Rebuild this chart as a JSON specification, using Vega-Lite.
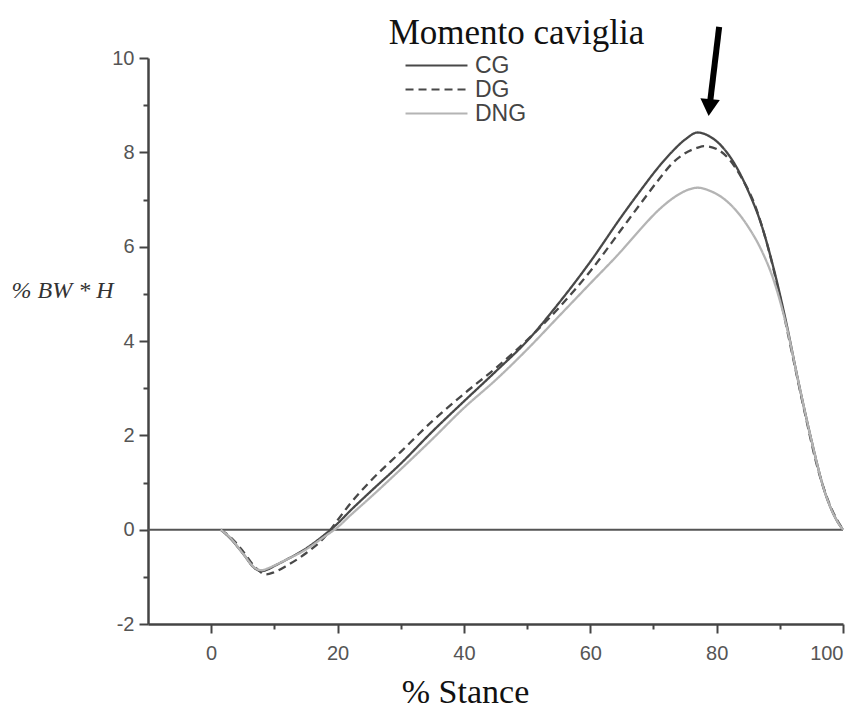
{
  "$schema": "https://vega.github.io/schema/vega-lite/v6.json",
  "width": 695,
  "height": 566,
  "autosize": {"type": "none"},
  "padding": {"left": 148, "top": 58, "right": 20, "bottom": 85},
  "background": "white",
  "config": {"view": {"stroke": null}, "font": "Liberation Sans"},
  "title": {
    "text": "Momento caviglia",
    "font": "Liberation Serif",
    "fontSize": 35,
    "fontWeight": "normal",
    "color": "#111111",
    "anchor": "middle",
    "dx": 21,
    "dy": 68,
    "offset": 13,
    "baseline": "alphabetic"
  },
  "datasets": {
    "curves": [
      {"g": "CG", "x": 1.5, "y": 0}, {"g": "CG", "x": 3, "y": -0.18}, {"g": "CG", "x": 5, "y": -0.5}, {"g": "CG", "x": 7, "y": -0.83}, {"g": "CG", "x": 8, "y": -0.88}, {"g": "CG", "x": 9, "y": -0.84}, {"g": "CG", "x": 10, "y": -0.77}, {"g": "CG", "x": 12, "y": -0.63}, {"g": "CG", "x": 15, "y": -0.4}, {"g": "CG", "x": 18, "y": -0.1}, {"g": "CG", "x": 20, "y": 0.13}, {"g": "CG", "x": 22, "y": 0.4}, {"g": "CG", "x": 25, "y": 0.78}, {"g": "CG", "x": 30, "y": 1.4}, {"g": "CG", "x": 35, "y": 2.08}, {"g": "CG", "x": 40, "y": 2.72}, {"g": "CG", "x": 45, "y": 3.35}, {"g": "CG", "x": 50, "y": 4.0}, {"g": "CG", "x": 55, "y": 4.8}, {"g": "CG", "x": 60, "y": 5.68}, {"g": "CG", "x": 65, "y": 6.65}, {"g": "CG", "x": 68, "y": 7.2}, {"g": "CG", "x": 71, "y": 7.72}, {"g": "CG", "x": 73, "y": 8.02}, {"g": "CG", "x": 75, "y": 8.27}, {"g": "CG", "x": 77, "y": 8.42}, {"g": "CG", "x": 79, "y": 8.33}, {"g": "CG", "x": 81, "y": 8.1}, {"g": "CG", "x": 83, "y": 7.72}, {"g": "CG", "x": 85, "y": 7.18}, {"g": "CG", "x": 87, "y": 6.5}, {"g": "CG", "x": 89, "y": 5.55}, {"g": "CG", "x": 91, "y": 4.4}, {"g": "CG", "x": 93, "y": 3.1}, {"g": "CG", "x": 95, "y": 1.9}, {"g": "CG", "x": 97, "y": 0.85}, {"g": "CG", "x": 99, "y": 0.2}, {"g": "CG", "x": 100, "y": 0},
      {"g": "DG", "x": 1.5, "y": 0}, {"g": "DG", "x": 3, "y": -0.15}, {"g": "DG", "x": 5, "y": -0.45}, {"g": "DG", "x": 7, "y": -0.8}, {"g": "DG", "x": 8.7, "y": -0.95}, {"g": "DG", "x": 10, "y": -0.9}, {"g": "DG", "x": 12, "y": -0.76}, {"g": "DG", "x": 15, "y": -0.5}, {"g": "DG", "x": 18, "y": -0.15}, {"g": "DG", "x": 20, "y": 0.2}, {"g": "DG", "x": 22, "y": 0.55}, {"g": "DG", "x": 25, "y": 1.0}, {"g": "DG", "x": 30, "y": 1.65}, {"g": "DG", "x": 35, "y": 2.3}, {"g": "DG", "x": 40, "y": 2.88}, {"g": "DG", "x": 45, "y": 3.42}, {"g": "DG", "x": 50, "y": 4.02}, {"g": "DG", "x": 55, "y": 4.7}, {"g": "DG", "x": 60, "y": 5.48}, {"g": "DG", "x": 65, "y": 6.38}, {"g": "DG", "x": 68, "y": 6.92}, {"g": "DG", "x": 71, "y": 7.45}, {"g": "DG", "x": 73, "y": 7.77}, {"g": "DG", "x": 75, "y": 7.98}, {"g": "DG", "x": 77, "y": 8.1}, {"g": "DG", "x": 78, "y": 8.13}, {"g": "DG", "x": 80, "y": 8.07}, {"g": "DG", "x": 82, "y": 7.85}, {"g": "DG", "x": 84, "y": 7.45}, {"g": "DG", "x": 86, "y": 6.9}, {"g": "DG", "x": 88, "y": 6.05}, {"g": "DG", "x": 90, "y": 4.95}, {"g": "DG", "x": 92, "y": 3.7}, {"g": "DG", "x": 94, "y": 2.45}, {"g": "DG", "x": 96, "y": 1.3}, {"g": "DG", "x": 98, "y": 0.5}, {"g": "DG", "x": 100, "y": 0},
      {"g": "DNG", "x": 1.5, "y": 0}, {"g": "DNG", "x": 3, "y": -0.17}, {"g": "DNG", "x": 5, "y": -0.5}, {"g": "DNG", "x": 7, "y": -0.82}, {"g": "DNG", "x": 8, "y": -0.86}, {"g": "DNG", "x": 9, "y": -0.82}, {"g": "DNG", "x": 10, "y": -0.76}, {"g": "DNG", "x": 12, "y": -0.63}, {"g": "DNG", "x": 15, "y": -0.42}, {"g": "DNG", "x": 18, "y": -0.14}, {"g": "DNG", "x": 20, "y": 0.05}, {"g": "DNG", "x": 22, "y": 0.3}, {"g": "DNG", "x": 25, "y": 0.66}, {"g": "DNG", "x": 30, "y": 1.28}, {"g": "DNG", "x": 35, "y": 1.92}, {"g": "DNG", "x": 40, "y": 2.58}, {"g": "DNG", "x": 45, "y": 3.17}, {"g": "DNG", "x": 50, "y": 3.82}, {"g": "DNG", "x": 55, "y": 4.52}, {"g": "DNG", "x": 60, "y": 5.22}, {"g": "DNG", "x": 65, "y": 5.92}, {"g": "DNG", "x": 68, "y": 6.38}, {"g": "DNG", "x": 71, "y": 6.8}, {"g": "DNG", "x": 73, "y": 7.02}, {"g": "DNG", "x": 75, "y": 7.18}, {"g": "DNG", "x": 77, "y": 7.25}, {"g": "DNG", "x": 79, "y": 7.18}, {"g": "DNG", "x": 81, "y": 7.03}, {"g": "DNG", "x": 83, "y": 6.78}, {"g": "DNG", "x": 85, "y": 6.42}, {"g": "DNG", "x": 87, "y": 5.95}, {"g": "DNG", "x": 89, "y": 5.3}, {"g": "DNG", "x": 91, "y": 4.35}, {"g": "DNG", "x": 93, "y": 3.1}, {"g": "DNG", "x": 95, "y": 1.9}, {"g": "DNG", "x": 97, "y": 0.85}, {"g": "DNG", "x": 99, "y": 0.2}, {"g": "DNG", "x": 100, "y": 0}
    ]
  },
  "layer": [
    {
      "data": {"values": [{"y": 0}]},
      "mark": {"type": "rule", "color": "#555555", "strokeWidth": 2},
      "encoding": {
        "y": {"field": "y", "type": "quantitative"}
      }
    },
    {
      "data": {"name": "curves"},
      "mark": {"type": "line", "interpolate": "monotone", "strokeWidth": 2.3},
      "encoding": {
        "x": {
          "field": "x",
          "type": "quantitative",
          "scale": {"domain": [-10, 100], "nice": false, "zero": false},
          "axis": {
            "title": "% Stance",
            "titleFont": "Liberation Serif",
            "titleFontSize": 34,
            "titleFontWeight": "normal",
            "titleColor": "#111111",
            "titleX": 317,
            "titleY": 78,
            "titleAlign": "center",
            "titleBaseline": "alphabetic",
            "values": [0, 10, 20, 30, 40, 50, 60, 70, 80, 90, 100],
            "labelExpr": "datum.value % 20 === 0 ? '' + datum.value : ''",
            "tickSize": {"condition": {"test": "datum.value % 20 !== 0", "value": 5}, "value": 9},
            "tickColor": "#444444",
            "tickWidth": 2,
            "domainColor": "#444444",
            "domainWidth": 2.5,
            "labelFontSize": 20,
            "labelColor": "#555555",
            "labelPadding": 10,
            "grid": false
          }
        },
        "y": {
          "field": "y",
          "type": "quantitative",
          "scale": {"domain": [-2, 10], "nice": false, "zero": false},
          "axis": {
            "title": "% BW * H",
            "titleFont": "Liberation Serif",
            "titleFontStyle": "italic",
            "titleFontSize": 24,
            "titleFontWeight": "normal",
            "titleColor": "#333333",
            "titleAngle": 0,
            "titleX": -137,
            "titleY": 232,
            "titleAlign": "left",
            "titleBaseline": "middle",
            "values": [-2, -1, 0, 1, 2, 3, 4, 5, 6, 7, 8, 9, 10],
            "labelExpr": "datum.value % 2 === 0 ? '' + datum.value : ''",
            "tickSize": {"condition": {"test": "datum.value % 2 !== 0", "value": 5}, "value": 9},
            "tickColor": "#444444",
            "tickWidth": 2,
            "domainColor": "#444444",
            "domainWidth": 2.5,
            "labelFontSize": 20,
            "labelColor": "#555555",
            "labelPadding": 5,
            "grid": false
          }
        },
        "color": {
          "field": "g",
          "type": "nominal",
          "scale": {"domain": ["CG", "DG", "DNG"], "range": ["#484848", "#484848", "#b4b4b4"]},
          "legend": {
            "title": null,
            "orient": "none",
            "legendX": 277,
            "legendY": -4,
            "padding": 0,
            "symbolType": "M-4,0H4",
            "symbolSize": 240,
            "symbolStrokeWidth": 2,
            "labelFont": "Liberation Sans",
            "labelFontSize": 23,
            "labelColor": "#444444",
            "labelOffset": 27,
            "rowPadding": 0
          }
        },
        "strokeDash": {
          "field": "g",
          "type": "nominal",
          "scale": {"domain": ["CG", "DG", "DNG"], "range": [[1, 0], [8, 5], [1, 0]]},
          "legend": {
            "title": null,
            "orient": "none",
            "legendX": 277,
            "legendY": -4,
            "padding": 0,
            "symbolType": "M-4,0H4",
            "symbolSize": 240,
            "symbolStrokeWidth": 2,
            "labelFont": "Liberation Sans",
            "labelFontSize": 23,
            "labelColor": "#444444",
            "labelOffset": 27,
            "rowPadding": 0
          }
        }
      }
    },
    {
      "data": {"values": [{"x": 80.4, "y": 10.66, "x2": 79.0, "y2": 9.1}]},
      "mark": {"type": "rule", "color": "black", "strokeWidth": 6},
      "encoding": {
        "x": {"field": "x", "type": "quantitative"},
        "y": {"field": "y", "type": "quantitative"},
        "x2": {"field": "x2"},
        "y2": {"field": "y2"}
      }
    },
    {
      "data": {"values": [{"x": 78.85, "y": 8.95}]},
      "mark": {"type": "point", "shape": "triangle-down", "filled": true, "color": "black", "opacity": 1, "size": 380, "angle": 5},
      "encoding": {
        "x": {"field": "x", "type": "quantitative"},
        "y": {"field": "y", "type": "quantitative"}
      }
    }
  ]
}
